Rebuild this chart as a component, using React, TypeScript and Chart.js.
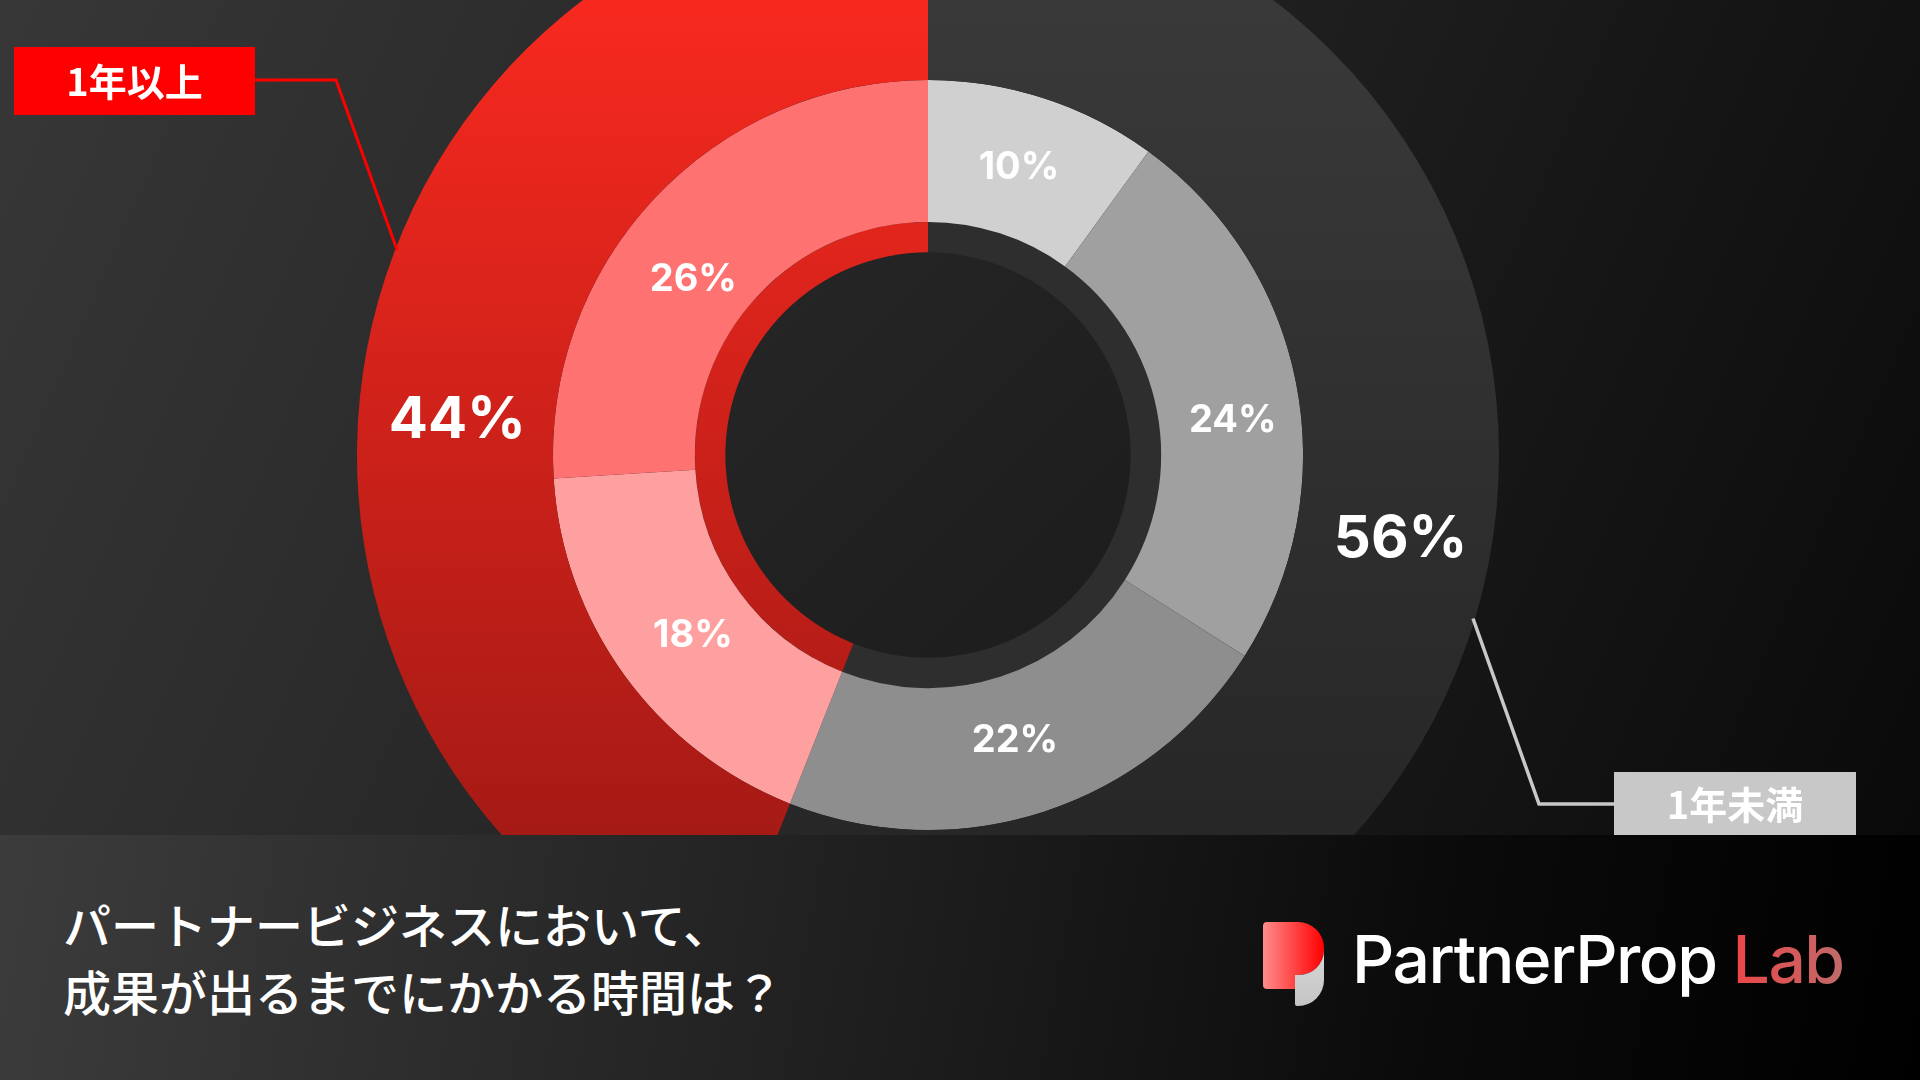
import { useEffect, useRef } from 'react';
import { Chart, DoughnutController, ArcElement } from 'chart.js';

Chart.register(DoughnutController, ArcElement);

// ---- data ----
const groupCategories = ['1年未満', '1年以上'];
const groupValues = [56, 44];
const detailValues = [10, 24, 22, 18, 26];
const groupTickLabels = ['56%', '44%'];
const detailTickLabels = ['10%', '24%', '22%', '18%', '26%'];
const titleLines = ['パートナービジネスにおいて、', '成果が出るまでにかかる時間は？'];

// ---- styles ----
const CANVAS_W = 1920;
const CANVAS_H = 835;
const DETAIL_COLORS = ['#d0d0d0', '#a0a0a0', '#8e8e8e', '#ffa0a0', '#ff7272'];
const DETAIL_NUDGE = [[-3, 2], [6, 23], [-7, -4], [11, 2], [-13, 33]];
const GROUP_NUDGE = [[8, -4], [-6, 54]];
const CALLOUTS = [
  { group: 1, angleDeg: 291.1, elbow: [336, 80], box: { x: 14, y: 47, w: 241, h: 68 }, fill: '#ff0000', line: '#ff0000', lw: 3 },
  { group: 0, angleDeg: 106.7, elbow: [1539, 804], box: { x: 1614, y: 772, w: 242, h: 64 }, fill: '#c8c8c8', line: '#c8c8c8', lw: 3.5 },
];

function redGradient(chart: any) {
  const g = chart.ctx.createLinearGradient(0, 0, 0, CANVAS_H);
  g.addColorStop(0, '#f7291f');
  g.addColorStop(1, '#a61a15');
  return g;
}
function grayOuterGradient(chart: any) {
  const g = chart.ctx.createLinearGradient(0, 0, 0, CANVAS_H);
  g.addColorStop(0, '#393939');
  g.addColorStop(1, '#272727');
  return g;
}

const backgroundPlugin = {
  id: 'bgPlugin',
  beforeDraw(chart: any) {
    const ctx = chart.ctx;
    const g = ctx.createLinearGradient(0, 0, CANVAS_W, CANVAS_H);
    g.addColorStop(0, '#373737');
    g.addColorStop(0.5, '#222222');
    g.addColorStop(1, '#0a0a0a');
    ctx.save();
    ctx.fillStyle = g;
    ctx.fillRect(0, 0, chart.width, chart.height);
    ctx.restore();
  },
};

const decorPlugin = {
  id: 'decorPlugin',
  afterDatasetsDraw(chart: any) {
    const ctx = chart.ctx;
    const inner = chart.getDatasetMeta(2).data[0];
    const outer = chart.getDatasetMeta(0).data;
    // hole
    if (inner) {
      const { x, y, innerRadius } = inner.getProps(['x', 'y', 'innerRadius'], true);
      const g = ctx.createLinearGradient(x - innerRadius, y - innerRadius, x + innerRadius, y + innerRadius);
      g.addColorStop(0, '#262626');
      g.addColorStop(1, '#1c1c1c');
      ctx.save();
      ctx.beginPath();
      ctx.arc(x, y, innerRadius + 0.5, 0, Math.PI * 2);
      ctx.fillStyle = g;
      ctx.fill();
      ctx.restore();
    }
    // callouts
    CALLOUTS.forEach((c) => {
      const arc = outer[c.group];
      if (!arc) return;
      const { x, y, outerRadius } = arc.getProps(['x', 'y', 'outerRadius'], true);
      const a = ((c.angleDeg - 90) * Math.PI) / 180;
      const px = x + (outerRadius - 2) * Math.cos(a);
      const py = y + (outerRadius - 2) * Math.sin(a);
      const [ex, ey] = c.elbow;
      const attachX = c.box.x + c.box.w < ex ? c.box.x + c.box.w : c.box.x;
      ctx.save();
      ctx.strokeStyle = c.line;
      ctx.lineWidth = c.lw;
      ctx.lineJoin = 'miter';
      ctx.beginPath();
      ctx.moveTo(px, py);
      ctx.lineTo(ex, ey);
      ctx.lineTo(attachX, ey);
      ctx.stroke();
      ctx.fillStyle = c.fill;
      ctx.fillRect(c.box.x, c.box.y, c.box.w, c.box.h);
      ctx.fillStyle = '#ffffff';
      ctx.font = '700 38px "Noto Sans CJK JP", sans-serif';
      ctx.textAlign = 'center';
      ctx.textBaseline = 'middle';
      ctx.fillText(groupCategories[c.group], c.box.x + c.box.w / 2, c.box.y + c.box.h / 2 + 1);
      ctx.restore();
    });
    // percentage labels
    ctx.save();
    ctx.fillStyle = '#ffffff';
    ctx.textAlign = 'center';
    ctx.textBaseline = 'middle';
    const detailMeta = chart.getDatasetMeta(1);
    ctx.font = '700 38px Inter, sans-serif';
    detailMeta.data.forEach((el: any, i: number) => {
      const p = el.tooltipPosition(true);
      ctx.fillText(detailTickLabels[i], p.x + DETAIL_NUDGE[i][0], p.y + DETAIL_NUDGE[i][1]);
    });
    ctx.font = '700 58px Inter, sans-serif';
    outer.forEach((el: any, i: number) => {
      const p = el.tooltipPosition(true);
      ctx.fillText(groupTickLabels[i], p.x + GROUP_NUDGE[i][0], p.y + GROUP_NUDGE[i][1]);
    });
    ctx.restore();
  },
};

function ChartCanvas() {
  const ref = useRef<HTMLCanvasElement | null>(null);
  useEffect(() => {
    if (!ref.current) return;
    const chart = new Chart(ref.current, {
      type: 'doughnut',
      data: {
        labels: detailTickLabels,
        datasets: [
          {
            data: groupValues,
            weight: 196,
            backgroundColor: (c: any) => (c.dataIndex === 1 ? redGradient(c.chart) : grayOuterGradient(c.chart)),
            borderWidth: 0,
          } as any,
          {
            data: detailValues,
            weight: 142,
            backgroundColor: DETAIL_COLORS,
            borderWidth: 0,
          } as any,
          {
            data: groupValues,
            weight: 31,
            backgroundColor: (c: any) => (c.dataIndex === 1 ? redGradient(c.chart) : '#2e2e2e'),
            borderWidth: 0,
          } as any,
        ],
      },
      options: {
        responsive: false,
        animation: false,
        events: [],
        radius: 571,
        cutout: '35.4%',
        layout: { padding: { left: 0, right: 64, top: 75, bottom: 0 } },
        plugins: { legend: { display: false }, tooltip: { enabled: false } } as any,
      } as any,
      plugins: [backgroundPlugin, decorPlugin],
    });
    return () => chart.destroy();
  }, []);
  return (
    <canvas
      ref={ref}
      width={CANVAS_W}
      height={CANVAS_H}
      style={{ position: 'absolute', left: 0, top: 0, width: CANVAS_W, height: CANVAS_H, display: 'block' }}
    />
  );
}

function Logo() {
  return (
    <svg width={70} height={92} viewBox="0 0 70 92" style={{ position: 'absolute', left: 1260, top: 83 }}>
      <defs>
        <linearGradient id="pRed" x1="0" y1="0" x2="1" y2="0">
          <stop offset="0" stopColor="#ff8c8c" />
          <stop offset="1" stopColor="#ff0000" />
        </linearGradient>
        <linearGradient id="pGray" x1="0" y1="0" x2="0" y2="1">
          <stop offset="0" stopColor="#d8d8d8" />
          <stop offset="1" stopColor="#c4c4c4" />
        </linearGradient>
      </defs>
      <path d="M3,8 Q3,4 7,4 L38,4 A26,26 0 0 1 64,30 L64,32 A25,25 0 0 1 39,57 L35,57 L35,71 L7,71 Q3,71 3,67 Z" fill="url(#pRed)" />
      <path d="M35,57 L39,57 A25,25 0 0 0 64,32 L64,62 A26,26 0 0 1 38,88 L37,88 Q35,88 35,86 Z" fill="url(#pGray)" />
    </svg>
  );
}

export default function App() {
  useEffect(() => {
    document.body.style.margin = '0';
  }, []);
  return (
    <div style={{ position: 'absolute', left: 0, top: 0, width: 1920, height: 1080, overflow: 'hidden', background: '#111' }}>
      <ChartCanvas />
      <div
        style={{
          position: 'absolute',
          left: 0,
          top: CANVAS_H,
          width: 1920,
          height: 1080 - CANVAS_H,
          background: 'linear-gradient(100deg, #3c3c3c 0%, #1f1f1f 45%, #0a0a0a 75%, #000000 100%)',
        }}
      >
        <div
          style={{
            position: 'absolute',
            left: 63,
            top: 55,
            fontFamily: '"Noto Sans CJK JP", sans-serif',
            fontWeight: 500,
            fontSize: 48,
            lineHeight: '67px',
            color: '#ffffff',
            whiteSpace: 'nowrap',
          }}
        >
          {titleLines.map((t, i) => (
            <div key={i}>{t}</div>
          ))}
        </div>
        <Logo />
        <div
          style={{
            position: 'absolute',
            left: 1352,
            top: 91,
            fontFamily: 'Inter, sans-serif',
            fontWeight: 500,
            fontSize: 66,
            lineHeight: '66px',
            letterSpacing: '-1.5px',
            color: '#ffffff',
            whiteSpace: 'nowrap',
          }}
        >
          PartnerProp{' '}
          <span
            style={{
              background: 'linear-gradient(90deg, #ec4646 0%, #c06a6a 100%)',
              WebkitBackgroundClip: 'text',
              backgroundClip: 'text',
              color: 'transparent',
            }}
          >
            Lab
          </span>
        </div>
      </div>
    </div>
  );
}
